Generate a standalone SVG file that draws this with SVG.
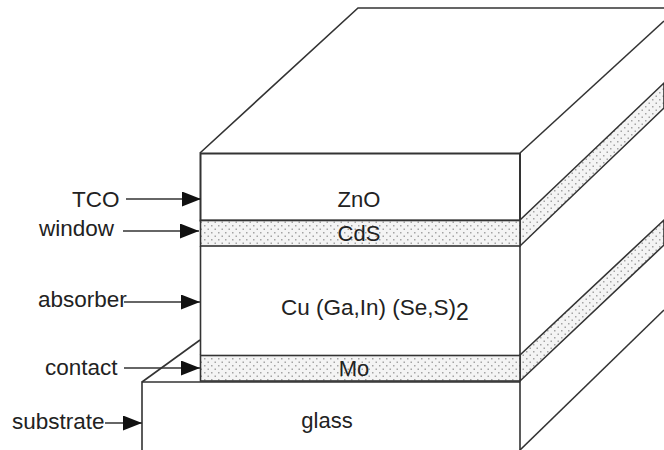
<svg xmlns="http://www.w3.org/2000/svg" width="664" height="450" viewBox="0 0 664 450">
<defs>
<pattern id="dots" width="7" height="7" patternUnits="userSpaceOnUse">
<rect width="7" height="7" fill="#f4f4f4"/>
<rect x="1" y="1" width="1.500" height="1.500" fill="#a4a4a4"/>
<rect x="4.500" y="4.500" width="1.500" height="1.500" fill="#a4a4a4"/>
</pattern>
<marker id="arrow" markerUnits="userSpaceOnUse" markerWidth="19" markerHeight="15" refX="19" refY="7.500" orient="auto">
<path d="M0,0 L19,7.500 L0,15 Z" fill="#111"/>
</marker>
</defs>
<style>
text{font-family:"Liberation Sans",Arial,sans-serif;font-size:22px;fill:#222}
.w{font-size:22.500px}
.m{text-anchor:middle}
.l{fill:none;stroke:#333;stroke-width:1.6}
.b{fill:none;stroke:#333;stroke-width:2}
.d{fill:url(#dots);stroke:#333;stroke-width:1.6}
.a{stroke:#333;stroke-width:1.6;fill:none;marker-end:url(#arrow)}
</style>
<rect width="664" height="450" fill="#fff"/>
<g id="top-face"><path class="l" d="M200,153 L358,8 H664"/><path class="l" d="M520,153 L664,21"/></g>
<g id="zno"><rect class="b" x="200.500" y="153.500" width="319.500" height="67"/><text class="m" x="359" y="207">ZnO</text></g>
<g id="cds"><path class="d" d="M520,220 L664,83 V108 L520,246 Z"/><rect class="d" x="200.500" y="220.500" width="319.500" height="25.500"/><text class="m" x="359" y="241">CdS</text></g>
<g id="cigs"><path class="l" d="M200.500,246 V355 M520,246 V355"/><text class="w" x="281" y="315">Cu (Ga,In) (Se,S)<tspan font-size="23" dy="5">2</tspan></text></g>
<g id="mo"><path class="d" d="M520,355 L664,220 V245 L520,381 Z"/><rect class="d" x="200.500" y="355.500" width="319.500" height="25.500"/><text class="m" x="354" y="376">Mo</text></g>
<g id="glass"><path class="l" d="M142,450 V382 H520 V450"/><path class="l" d="M142,382 L200,340"/><path class="l" d="M520,450 L664,310"/><text class="m" x="327" y="428">glass</text></g>
<g id="labels">
<text class="w" x="72" y="207">TCO</text>
<text class="w" x="39" y="236">window</text>
<text class="w" x="38" y="307">absorber</text>
<text class="w" x="45" y="375">contact</text>
<text class="w" x="12" y="429">substrate</text>
</g>
<g id="connectors">
<path class="a" d="M126,199 H201"/>
<path class="a" d="M123,231 H199"/>
<path class="a" d="M124,302 H200"/>
<path class="a" d="M124,368 H200"/>
<path class="a" d="M105,423 H142"/>
</g>
</svg>
